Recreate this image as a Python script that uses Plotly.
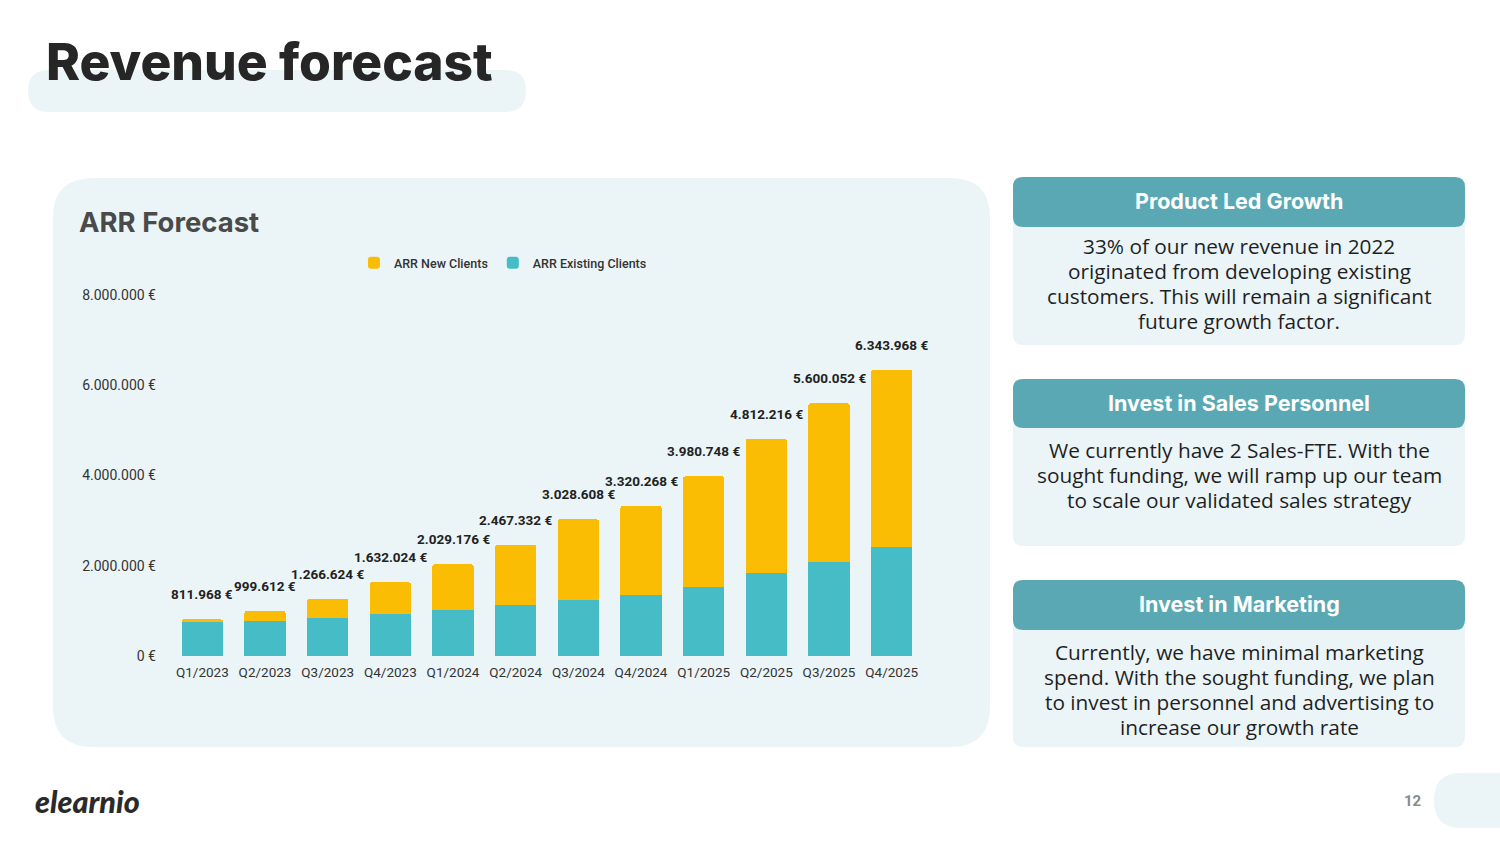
import plotly.graph_objects as go

W, H = 1500, 844

quarters = ["Q1/2023", "Q2/2023", "Q3/2023", "Q4/2023", "Q1/2024", "Q2/2024",
            "Q3/2024", "Q4/2024", "Q1/2025", "Q2/2025", "Q3/2025", "Q4/2025"]
totals = [811968, 999612, 1266624, 1632024, 2029176, 2467332,
          3028608, 3320268, 3980748, 4812216, 5600052, 6343968]
existing = [755000, 775000, 840000, 935000, 1025000, 1125000,
            1235000, 1350000, 1535000, 1840000, 2090000, 2415000]
new_clients = [t - e for t, e in zip(totals, existing)]
total_labels = ["811.968 €", "999.612 €", "1.266.624 €", "1.632.024 €", "2.029.176 €",
                "2.467.332 €", "3.028.608 €", "3.320.268 €", "3.980.748 €",
                "4.812.216 €", "5.600.052 €", "6.343.968 €"]
y_tickvals = [0, 2000000, 4000000, 6000000, 8000000]
y_ticktext = ["0 €", "2.000.000 €", "4.000.000 €", "6.000.000 €", "8.000.000 €"]

TEAL = "#46BDC6"
YELLOW = "#FBBC04"
CARD = "#EBF5F8"
HEAD = "#5AA8B4"


def px(x):
    return x / W


def py(y):
    return 1 - y / H


def rrect(x0, y0, x1, y1, r, top=True, bottom=True):
    rt = r if top else 0
    rb = r if bottom else 0
    p = []
    p.append(f"M{px(x0 + rt)},{py(y0)}")
    p.append(f"L{px(x1 - rt)},{py(y0)}")
    if rt:
        p.append(f"Q{px(x1)},{py(y0)} {px(x1)},{py(y0 + rt)}")
    p.append(f"L{px(x1)},{py(y1 - rb)}")
    if rb:
        p.append(f"Q{px(x1)},{py(y1)} {px(x1 - rb)},{py(y1)}")
    p.append(f"L{px(x0 + rb)},{py(y1)}")
    if rb:
        p.append(f"Q{px(x0)},{py(y1)} {px(x0)},{py(y1 - rb)}")
    p.append(f"L{px(x0)},{py(y0 + rt)}")
    if rt:
        p.append(f"Q{px(x0)},{py(y0)} {px(x0 + rt)},{py(y0)}")
    p.append("Z")
    return " ".join(p)


fig = go.Figure()
fig.add_trace(go.Bar(x=quarters, y=existing, name="ARR Existing Clients",
                     marker_color=TEAL, marker_line_width=0))
fig.add_trace(go.Bar(x=quarters, y=new_clients, name="ARR New Clients",
                     marker_color=YELLOW, marker_line_width=0))

shapes = []
shapes.append(dict(type="path", path=rrect(28, 70, 526, 112, 21), fillcolor=CARD,
                   line_width=0, xref="paper", yref="paper", layer="below"))
shapes.append(dict(type="path", path=rrect(53, 178, 990, 747, 40), fillcolor=CARD,
                   line_width=0, xref="paper", yref="paper", layer="below"))
panels = [(177, 227, 345), (379, 428, 546), (580, 630, 747)]
for (ht, hb, bb) in panels:
    shapes.append(dict(type="path", path=rrect(1013, hb - 5, 1465, bb, 10, top=False),
                       fillcolor=CARD, line_width=0, xref="paper", yref="paper", layer="below"))
    shapes.append(dict(type="path", path=rrect(1013, ht, 1465, hb, 10), fillcolor=HEAD,
                       line_width=0, xref="paper", yref="paper", layer="below"))
shapes.append(dict(type="path", path=rrect(1434, 773, 1540, 828, 27), fillcolor=CARD,
                   line_width=0, xref="paper", yref="paper", layer="below"))

annotations = []
for q, t, lab in zip(quarters, totals, total_labels):
    annotations.append(dict(x=q, y=t, xref="x", yref="y", text=lab, showarrow=False,
                            yanchor="middle", yshift=25,
                            font=dict(family="Roboto", size=13.5, color="#222222", weight="bold")))


def txt(x, y, s, size, color, family="Inter", weight="normal", xanchor="center", style="normal"):
    annotations.append(dict(x=px(x), y=py(y), xref="paper", yref="paper", text=s,
                            showarrow=False, xanchor=xanchor, yanchor="middle", align="center",
                            font=dict(family=family, size=size, color=color, weight=weight, style=style)))


txt(44, 61, "Revenue forecast", 51.5, "#262626", weight=800, xanchor="left")
txt(77, 222, "ARR Forecast", 27.5, "#4a4a4a", weight=700, xanchor="left")

heads = ["Product Led Growth", "Invest in Sales Personnel", "Invest in Marketing"]
head_y = [201, 403, 604]
for h, yy in zip(heads, head_y):
    txt(1239, yy, h, 21.5, "#ffffff", weight=700)

bodies = [
    ["33% of our new revenue in 2022", "originated from developing existing",
     "customers. This will remain a significant", "future growth factor."],
    ["We currently have 2 Sales-FTE. With the", "sought funding, we will ramp up our team",
     "to scale our validated sales strategy"],
    ["Currently, we have minimal marketing", "spend. With the sought funding, we plan",
     "to invest in personnel and advertising to", "increase our growth rate"],
]
body_y0 = [246, 450, 652]
for lines, y0 in zip(bodies, body_y0):
    for i, line in enumerate(lines):
        txt(1239, y0 + 25 * i, line, 20.8, "#1f1f1f", family="Open Sans")

txt(33, 801, "elearnio", 30.5, "#2a2a2a", family="Lato", weight=900, xanchor="left", style="italic")
txt(1413, 801, "12", 15, "#8a8a8a", family="Roboto", weight="bold")

fig.update_layout(
    width=W, height=H,
    margin=dict(l=0, r=0, t=0, b=0, pad=0, autoexpand=False),
    paper_bgcolor="#ffffff",
    plot_bgcolor="rgba(0,0,0,0)",
    barmode="stack",
    bargap=0.345,
    barcornerradius=2,
    showlegend=True,
    legend=dict(orientation="h", x=0.3353, xanchor="center", y=py(263), yanchor="middle",
                traceorder="reversed", bgcolor="rgba(0,0,0,0)",
                font=dict(family="Roboto", size=12.5, color="#333333", weight=500),
                itemwidth=30),
    xaxis=dict(domain=[px(171), px(923)], range=[-0.5, 11.5], showgrid=False, zeroline=False,
               showline=False, automargin=False, ticks="", ticklabelstandoff=6,
               tickfont=dict(family="Roboto", size=13.5, color="#333333")),
    yaxis=dict(domain=[py(656), py(295)], range=[0, 8000000], showgrid=False, zeroline=False,
               showline=False, automargin=False, tickvals=y_tickvals, ticktext=y_ticktext,
               ticks="", ticklabelstandoff=14,
               tickfont=dict(family="Roboto", size=14, color="#333333")),
    shapes=shapes,
    annotations=annotations,
    font=dict(family="Roboto"),
)

fig.write_html("out.html", config={"displayModeBar": False},
               post_script="document.body.style.margin='0';")
